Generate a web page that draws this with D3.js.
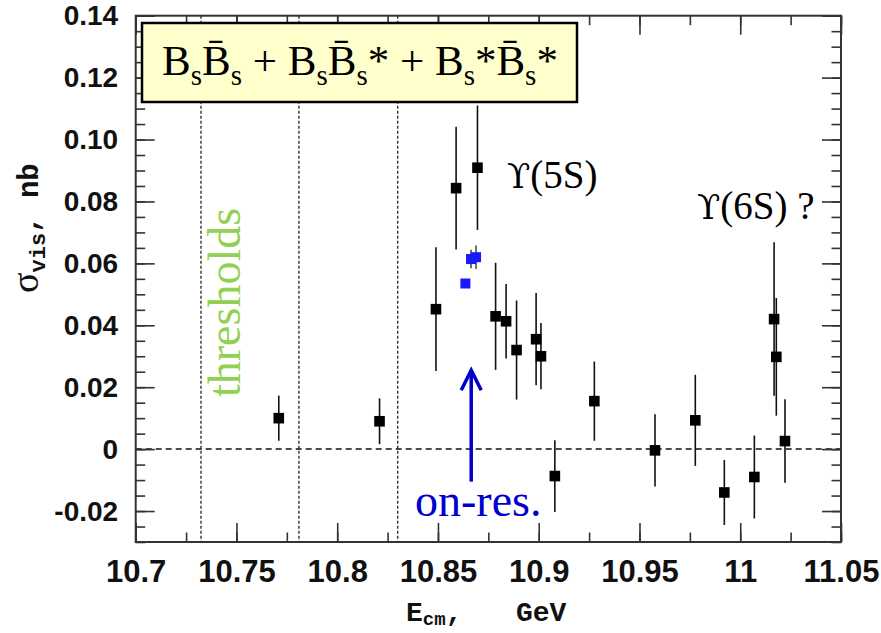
<!DOCTYPE html>
<html><head><meta charset="utf-8">
<script src="https://cdn.jsdelivr.net/npm/d3@7"></script>
<style>body{margin:0;background:#fff}</style>
</head><body>
<svg id="chart" width="881" height="633"></svg>
<script>
// Visible cross-section of Bs pair production versus c.m. energy
// Scan points (black squares)
const energy   = [10.771, 10.821, 10.849, 10.859, 10.8696, 10.8786, 10.8838, 10.889, 10.8987, 10.9011,
                  10.908, 10.9276, 10.9577, 10.9777, 10.9921, 11.007, 11.0168, 11.0179, 11.0222];
const sigma    = [0.0100, 0.0090, 0.0452, 0.0843, 0.0909, 0.0429, 0.0413, 0.0320, 0.0355, 0.0300,
                  -0.0087, 0.0155, -0.0004, 0.0093, -0.0140, -0.0090, 0.0420, 0.0298, 0.0026];
const sigmaErr = [0.0073, 0.0074, 0.0200, 0.0198, 0.0201, 0.0173, 0.0120, 0.0160, 0.0149, 0.0107,
                  0.0116, 0.0128, 0.0117, 0.0147, 0.0105, 0.0134, 0.0248, 0.0190, 0.0135];
// On-resonance runs (blue squares)
const onResEnergy = [10.8636, 10.8664, 10.8689];
const onResSigma  = [0.0535, 0.0614, 0.0620];
const onResErr    = [0.0010, 0.0030, 0.0038];
// Open-flavour thresholds: BsBs, BsBs*, Bs*Bs*
const thresholds = [10.7324, 10.781, 10.830];
// Axes
const xDomain = [10.7, 11.05];
const yDomain = [-0.03, 0.14];
const xTicks = [10.7, 10.75, 10.8, 10.85, 10.9, 10.95, 11, 11.05];
const yTicks = [-0.02, 0, 0.02, 0.04, 0.06, 0.08, 0.10, 0.12, 0.14];
// Arrow pointing at the on-resonance energy
const arrowE = 10.8665, arrowFrom = -0.0105, arrowTo = 0.0255;

const svg = d3.select("#chart");
const L = 135.7, R = 841, T = 15.7, B = 542;
const x = d3.scaleLinear().domain(xDomain).range([L, R]);
const y = d3.scaleLinear().domain(yDomain).range([B, T]);

const xMinor = d3.range(0, 15).map(i => xDomain[0] + i * 0.025);
const yMinor = y.ticks(34);

const serif = "Liberation Serif, Times New Roman, serif";
const sans = "Liberation Sans, Arial, sans-serif";
const mono = "Liberation Mono, Courier New, monospace";

// threshold lines
svg.append("g").selectAll("line").data(thresholds).join("line")
  .attr("x1", d => x(d)).attr("x2", d => x(d)).attr("y1", T).attr("y2", B)
  .attr("stroke", "#333").attr("stroke-width", 1.4).attr("stroke-dasharray", "3,2");

// zero line
svg.append("line").attr("x1", L).attr("x2", R).attr("y1", y(0)).attr("y2", y(0))
  .attr("stroke", "#111").attr("stroke-width", 1.5).attr("stroke-dasharray", "6,4");

// ticks on all four sides
function styleAxis(g) {
  g.select(".domain").remove();
  g.selectAll(".tick line").attr("stroke", "#333").attr("stroke-width", 1.6);
}
svg.append("g").attr("transform", `translate(${L},0)`)
  .call(d3.axisLeft(y).tickValues(yMinor).tickSize(-9.5).tickFormat("")).call(styleAxis);
svg.append("g").attr("transform", `translate(${R},0)`)
  .call(d3.axisRight(y).tickValues(yMinor).tickSize(-9.5).tickFormat("")).call(styleAxis);
svg.append("g").attr("transform", `translate(${R},0)`)
  .call(d3.axisRight(y).tickValues(yTicks).tickSize(-19).tickFormat("")).call(styleAxis);
const yAxis = svg.append("g").attr("transform", `translate(${L},0)`)
  .call(d3.axisLeft(y).tickValues(yTicks).tickSize(-19).tickPadding(17.5)
    .tickFormat(d => d === 0 ? "0" : d3.format(".2f")(d).replace("\u2212", "-")))
  .call(styleAxis);
yAxis.selectAll("text")
  .attr("font-family", sans).attr("font-size", 28)
  .attr("font-weight", "bold").attr("fill", "#111");

svg.append("g").attr("transform", `translate(0,${B})`)
  .call(d3.axisBottom(x).tickValues(xMinor).tickSize(-9.5).tickFormat("")).call(styleAxis);
svg.append("g").attr("transform", `translate(0,${T})`)
  .call(d3.axisTop(x).tickValues(xMinor).tickSize(-9.5).tickFormat("")).call(styleAxis);
svg.append("g").attr("transform", `translate(0,${T})`)
  .call(d3.axisTop(x).tickValues(xTicks).tickSize(-19).tickFormat("")).call(styleAxis);
const xAxis = svg.append("g").attr("transform", `translate(0,${B})`)
  .call(d3.axisBottom(x).tickValues(xTicks).tickSize(-19).tickPadding(18)
    .tickFormat(d3.format("~g")))
  .call(styleAxis);
xAxis.selectAll("text")
  .attr("font-family", sans).attr("font-size", 31)
  .attr("font-weight", "bold").attr("fill", "#111").attr("dy", "0.72em");

// frame
svg.append("rect").attr("x", L).attr("y", T).attr("width", R - L).attr("height", B - T)
  .attr("fill", "none").attr("stroke", "#333").attr("stroke-width", 2);

// legend box
const box = svg.append("g");
box.append("rect").attr("x", 142).attr("y", 23).attr("width", 435).attr("height", 79)
  .attr("fill", "#ffffcc").attr("stroke", "#000").attr("stroke-width", 2.5);
const lt = box.append("text").attr("x", 162).attr("y", 75)
  .attr("font-family", serif).attr("font-size", 43).attr("fill", "#000");
const parts = [
  ["B", 0], ["s", 1], ["B\u0304", 0], ["s", 1], [" + B", 0], ["s", 1], ["B\u0304", 0], ["s", 1], ["*", 0],
  [" + B", 0], ["s", 1], ["*B\u0304", 0], ["s", 1], ["*", 0]
];
let prevSub = 0;
parts.forEach(([t, sub]) => {
  const ts = lt.append("tspan").text(t);
  if (sub) ts.attr("font-size", 29);
  const dy = (sub - prevSub) * 10;
  if (dy) ts.attr("dy", dy);
  prevSub = sub;
});

// error bars and markers
const scan = energy.map((e, i) => ({e, s: sigma[i], d: sigmaErr[i]}));
const onres = onResEnergy.map((e, i) => ({e, s: onResSigma[i], d: onResErr[i]}));

svg.append("g").selectAll("line").data(onres).join("line")
  .attr("x1", d => x(d.e)).attr("x2", d => x(d.e))
  .attr("y1", d => y(d.s - d.d)).attr("y2", d => y(d.s + d.d))
  .attr("stroke", "#333").attr("stroke-width", 1.4);
svg.append("g").selectAll("rect").data(onres).join("rect")
  .attr("x", d => x(d.e) - 5).attr("y", d => y(d.s) - 5).attr("width", 10).attr("height", 10)
  .attr("fill", "#1a1aff");

svg.append("g").selectAll("line").data(scan).join("line")
  .attr("x1", d => x(d.e)).attr("x2", d => x(d.e))
  .attr("y1", d => y(d.s - d.d)).attr("y2", d => y(d.s + d.d))
  .attr("stroke", "#111").attr("stroke-width", 1.6);
svg.append("g").selectAll("rect").data(scan).join("rect")
  .attr("x", d => x(d.e) - 5.3).attr("y", d => y(d.s) - 5.3).attr("width", 10.6).attr("height", 10.6)
  .attr("fill", "#000");

// annotations
const ups = "DejaVu Serif, Liberation Serif, serif";
const t5 = svg.append("text").attr("x", 507).attr("y", 188).attr("font-family", serif)
  .attr("font-size", 39).attr("fill", "#000");
t5.append("tspan").attr("font-family", ups).attr("font-size", 34).text("\u03D2");
t5.append("tspan").text("(5S)");
const t6 = svg.append("text").attr("x", 697).attr("y", 219).attr("font-family", serif)
  .attr("font-size", 39).attr("fill", "#000");
t6.append("tspan").attr("font-family", ups).attr("font-size", 34).text("\u03D2");
t6.append("tspan").text("(6S) ?");
svg.append("text").attr("transform", "translate(240,397) rotate(-90)")
  .attr("font-family", serif).attr("font-size", 46).attr("fill", "#92d050").text("thresholds");
svg.append("text").attr("x", 415).attr("y", 516).attr("font-family", serif)
  .attr("font-size", 46).attr("fill", "#0000cc").text("on-res.");

// arrow
const ax = x(arrowE), ay0 = y(arrowFrom), ay1 = y(arrowTo);
svg.append("line").attr("x1", ax).attr("x2", ax).attr("y1", ay0).attr("y2", ay1 + 1)
  .attr("stroke", "#0000cc").attr("stroke-width", 3.5);
svg.append("path")
  .attr("d", `M${ax - 10},${ay1 + 20} L${ax},${ay1} L${ax + 10},${ay1 + 20}`)
  .attr("fill", "none").attr("stroke", "#0000cc").attr("stroke-width", 3.5);

// axis titles
const yt = svg.append("text").attr("transform", "translate(38,293) rotate(-90)")
  .attr("font-family", mono).attr("font-size", 29).attr("font-weight", "bold").attr("fill", "#111");
yt.append("tspan").attr("font-family", serif).attr("font-weight", "normal").attr("font-size", 38).text("\u03C3");
yt.append("tspan").attr("font-size", 22).attr("dy", 7).text("vis");
yt.append("tspan").attr("dy", -7).attr("xml:space", "preserve").text(", nb");

const xt = svg.append("text").attr("x", 406).attr("y", 621)
  .attr("font-family", mono).attr("font-size", 28).attr("font-weight", "bold").attr("fill", "#111");
xt.append("tspan").text("E");
xt.append("tspan").attr("font-size", 19).attr("dy", 4).text("cm");
xt.append("tspan").attr("dy", -4).text(",");
xt.append("tspan").attr("x", 516).text("GeV");
</script>
</body></html>
